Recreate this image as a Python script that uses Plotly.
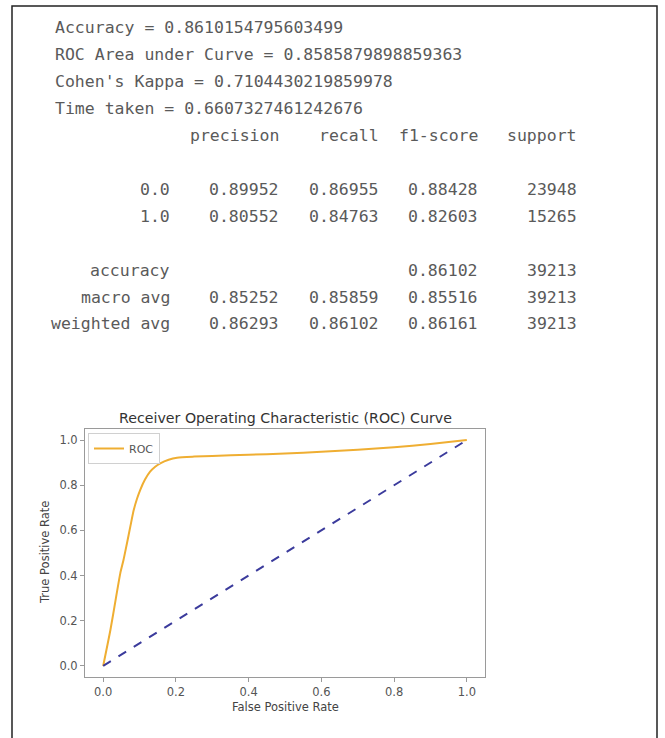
import plotly.graph_objects as go

W, H = 665, 738

# ---------------- data ----------------
summary_labels = ["Accuracy", "ROC Area under Curve", "Cohen's Kappa", "Time taken"]
summary_values = ["0.8610154795603499", "0.8585879898859363", "0.7104430219859978", "0.6607327461242676"]

report_columns = ["precision", "recall", "f1-score", "support"]
report_rows = ["0.0", "1.0", None, "accuracy", "macro avg", "weighted avg"]
precision = ["0.89952", "0.80552", None, "", "0.85252", "0.86293"]
recall = ["0.86955", "0.84763", None, "", "0.85859", "0.86102"]
f1_score = ["0.88428", "0.82603", None, "0.86102", "0.85516", "0.86161"]
support = ["23948", "15265", None, "39213", "39213", "39213"]

fpr = [0, 0.02, 0.035, 0.047, 0.056, 0.065, 0.075, 0.084, 0.093, 0.102, 0.115, 0.129,
       0.143, 0.157, 0.18, 0.203, 0.25, 0.30, 0.40, 0.50, 0.60, 0.70, 0.80, 0.90, 1.0]
tpr = [0, 0.16, 0.30, 0.41, 0.47, 0.54, 0.62, 0.69, 0.74, 0.78, 0.825, 0.86,
       0.882, 0.897, 0.913, 0.922, 0.927, 0.93, 0.935, 0.94, 0.948, 0.957, 0.968, 0.983, 1.0]
diag_x = [0, 1]
diag_y = [0, 1]
tick_vals = [0, 0.2, 0.4, 0.6, 0.8, 1.0]
tick_text = ["0.0", "0.2", "0.4", "0.6", "0.8", "1.0"]


def px(x):
    return x / W


def py(y):
    return 1 - y / H


MONO = "DejaVu Sans Mono"
FS = 16.5
CW = 9.93
TXT = "#5a5a5a"
X0 = 53
LINE = 26.9

fig = go.Figure()
fig.add_trace(go.Scatter(x=fpr, y=tpr, mode="lines", name="ROC",
                         line=dict(color="#efae32", width=2, shape="spline", smoothing=0.6)))
fig.add_trace(go.Scatter(x=diag_x, y=diag_y, mode="lines", showlegend=False,
                         line=dict(color="#3b3b9c", width=2, dash="dash")))

annotations = []
# summary lines
for i, (lab, val) in enumerate(zip(summary_labels, summary_values)):
    annotations.append(dict(x=px(X0), y=py(28 + i * LINE), xref="paper", yref="paper",
                            xanchor="left", yanchor="middle", showarrow=False,
                            text=f"{lab} = {val}", font=dict(family=MONO, size=FS, color=TXT)))

# report header
col_right = [X0 + (13 + 10 * (k + 1)) * CW for k in range(4)]
hdr_y = 28 + 4 * LINE
for k, c in enumerate(report_columns):
    annotations.append(dict(x=px(col_right[k]), y=py(hdr_y), xref="paper", yref="paper",
                            xanchor="right", yanchor="middle", showarrow=False,
                            text=c, font=dict(family=MONO, size=FS, color=TXT)))

# report rows
row_y = hdr_y + 2 * LINE
cols = [precision, recall, f1_score, support]
for r, lab in enumerate(report_rows):
    yy = row_y + r * LINE
    if lab is None:
        continue
    annotations.append(dict(x=px(X0 + 12 * CW), y=py(yy), xref="paper", yref="paper",
                            xanchor="right", yanchor="middle", showarrow=False,
                            text=lab, font=dict(family=MONO, size=FS, color=TXT)))
    for k in range(4):
        v = cols[k][r]
        if v:
            annotations.append(dict(x=px(col_right[k]), y=py(yy), xref="paper", yref="paper",
                                    xanchor="right", yanchor="middle", showarrow=False,
                                    text=v, font=dict(family=MONO, size=FS, color=TXT)))

# chart title and axis titles
SANS = "DejaVu Sans"
annotations.append(dict(x=px(285), y=py(418), xref="paper", yref="paper",
                        xanchor="center", yanchor="middle", showarrow=False,
                        text="Receiver Operating Characteristic (ROC) Curve",
                        font=dict(family=SANS, size=14.2, color="#333333")))
annotations.append(dict(x=px(285), y=py(707), xref="paper", yref="paper",
                        xanchor="center", yanchor="middle", showarrow=False,
                        text="False Positive Rate",
                        font=dict(family=SANS, size=11.5, color="#444444")))
annotations.append(dict(x=px(45), y=py(553), xref="paper", yref="paper",
                        xanchor="center", yanchor="middle", showarrow=False, textangle=-90,
                        text="True Positive Rate",
                        font=dict(family=SANS, size=11.5, color="#444444")))

axis_common = dict(showgrid=False, zeroline=False, showline=True, mirror=True,
                   linecolor="#9a9a9a", linewidth=1, ticks="outside", ticklen=4,
                   tickcolor="#9a9a9a", tickvals=tick_vals, ticktext=tick_text,
                   tickfont=dict(family=SANS, size=11.5, color="#555555"))

fig.update_layout(
    width=W, height=H, margin=dict(l=0, r=0, t=0, b=0),
    paper_bgcolor="white", plot_bgcolor="white",
    xaxis=dict(domain=[px(85), px(485)], range=[-0.05, 1.05], **axis_common),
    yaxis=dict(domain=[py(677), py(429)], range=[-0.049, 1.049], **axis_common),
    legend=dict(x=px(88), y=py(433), xanchor="left", yanchor="top",
                bordercolor="#d0d0d0", borderwidth=1, bgcolor="white",
                font=dict(family=SANS, size=11, color="#555555"),
                itemwidth=30, tracegroupgap=0),
    annotations=annotations,
    shapes=[dict(type="rect", xref="paper", yref="paper",
                 x0=px(12), x1=px(657), y0=-0.05, y1=py(6),
                 line=dict(color="#222222", width=1.5), fillcolor="rgba(0,0,0,0)")],
    showlegend=True,
)

fig.write_html("out.html")
